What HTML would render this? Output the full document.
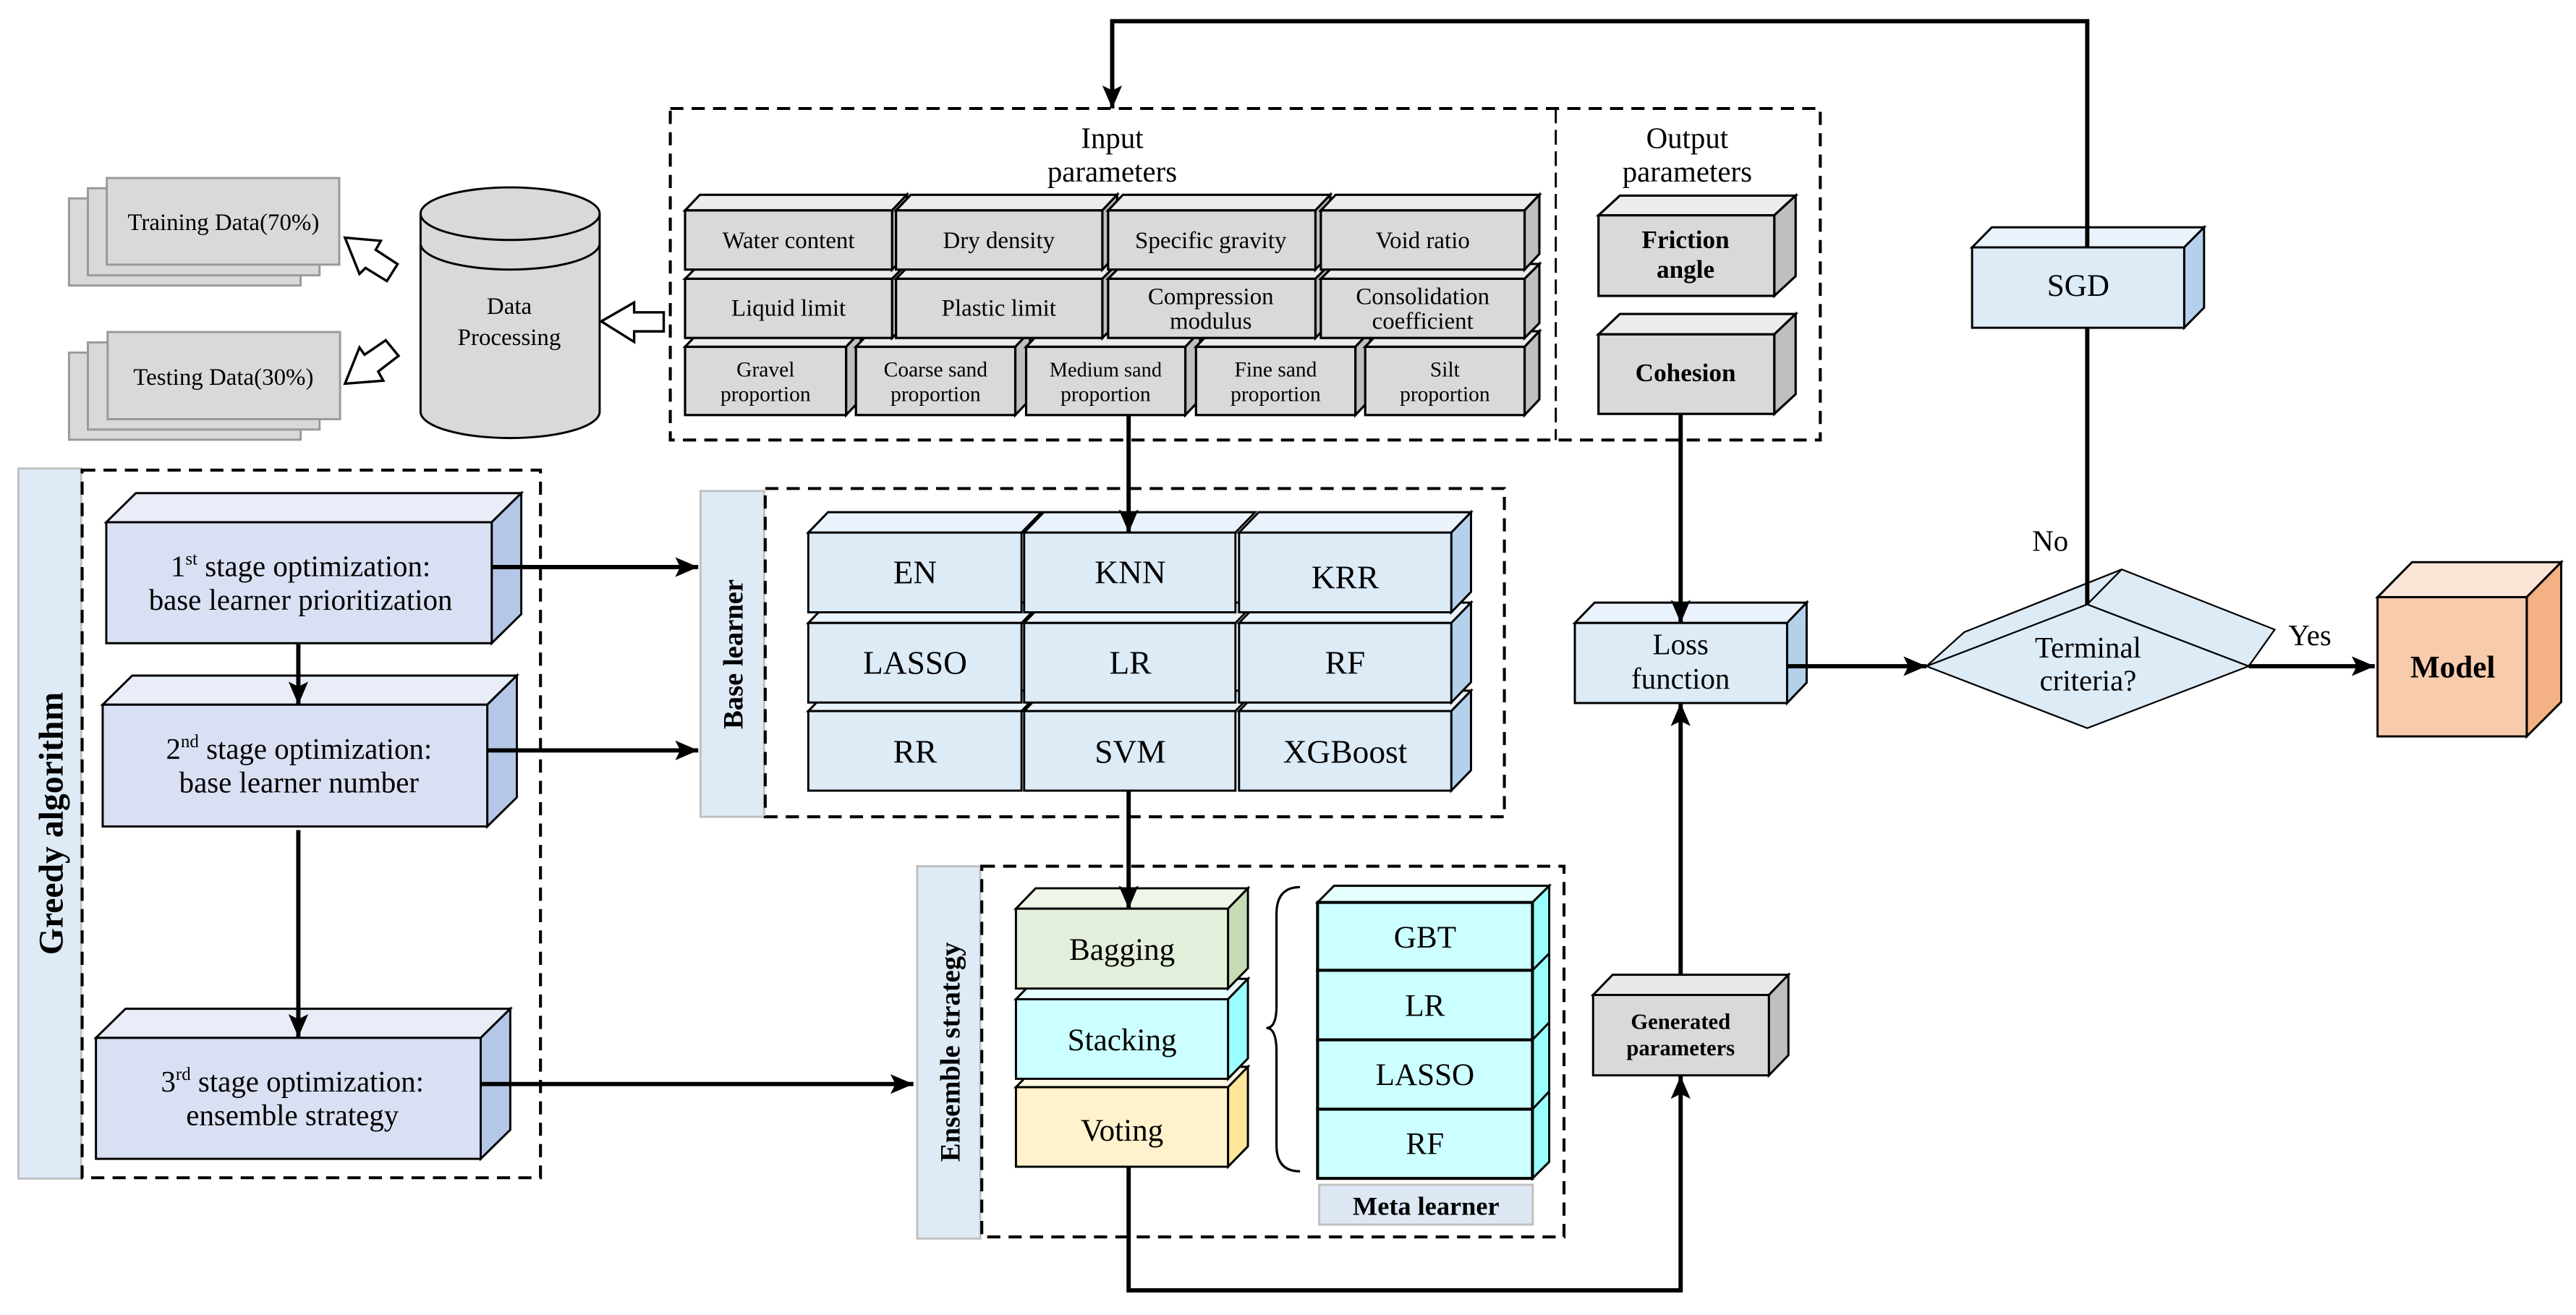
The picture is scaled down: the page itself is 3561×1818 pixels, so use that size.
<!DOCTYPE html>
<html><head><meta charset="utf-8"><style>
html,body{margin:0;padding:0;background:#fff;}
svg{display:block;font-family:"Liberation Serif","Times New Roman",serif;}
text{font-family:"Liberation Serif","Times New Roman",serif;fill:#000;}
</style></head><body>
<svg width="3561" height="1818" viewBox="0 0 1568 800" preserveAspectRatio="none" xmlns="http://www.w3.org/2000/svg" font-family="'Liberation Serif','Times New Roman',serif">
<defs>
<marker id="a" markerUnits="userSpaceOnUse" markerWidth="16" markerHeight="14" refX="14" refY="6" orient="auto">
<path d="M0,0 L14,6 L0,12 L3,6 z" fill="#000"/>
</marker>
</defs>
<rect width="1568" height="800" fill="#fff"/>

<g stroke="#999" stroke-width="1.3" fill="#d9d9d9">
<rect x="42" y="120.7" width="141" height="53"/>
<rect x="53.5" y="114.5" width="141" height="53"/>
<rect x="65" y="108.3" width="141.5" height="52.7"/>
<rect x="42" y="214.5" width="141" height="53"/>
<rect x="53.5" y="208.3" width="141" height="53"/>
<rect x="65.5" y="202" width="141.5" height="53"/>
</g>
<text x="136" y="140" font-size="14.5" text-anchor="middle">Training Data(70%)</text>
<text x="136" y="234" font-size="14.5" text-anchor="middle">Testing Data(30%)</text>

<g stroke="#000" stroke-width="1.5" fill="#fff">
<polygon points="210,144.6 231.8,146.5 228.7,152 242,160.7 235.5,171 222.5,163 218.8,166.6"/>
<polygon points="210,233.4 233.3,231.6 230.2,226 242.6,216.5 234.8,207 221.9,215.8 218.8,211.4"/>
<polygon points="366,195.5 386,184 386,190 404,190 404,201.6 386,201.6 386,208"/>
</g>

<g stroke="#000" stroke-width="1.3" fill="#d9d9d9">
<path d="M256,130 L256,250.5 A54.5,16 0 0 0 365,250.5 L365,130 A54.5,16 0 0 0 256,130 z"/>
<path d="M256,130 A54.5,16 0 0 0 365,130" fill="none"/>
<path d="M256,148 A54.5,16 0 0 0 365,148" fill="none"/>
</g>
<text x="310" y="191" font-size="14.5" text-anchor="middle">Data</text>
<text x="310" y="210" font-size="14.5" text-anchor="middle">Processing</text>

<g fill="none" stroke="#000" stroke-width="1.8" stroke-dasharray="8,5">
<rect x="408" y="66" width="700" height="201.7"/>
<line x1="947" y1="66" x2="947" y2="267.7" stroke-dasharray="9,4" stroke-width="1.3"/>
</g>
<text x="677" y="90" font-size="18" text-anchor="middle">Input</text>
<text x="677" y="110.5" font-size="18" text-anchor="middle">parameters</text>
<text x="1027" y="90" font-size="18" text-anchor="middle">Output</text>
<text x="1027" y="110.5" font-size="18" text-anchor="middle">parameters</text>

<g stroke="#000" stroke-width="1.4" stroke-linejoin="miter">
<g>
<polygon points="417,211 426,201.5 524,201.5 515,211" fill="#ececec"/><polygon points="515,211 524,201.5 524,243 515,252.5" fill="#bfbfbf"/><rect x="417" y="211" width="98" height="41.5" fill="#d9d9d9"/>
<polygon points="521,211 530,201.5 627,201.5 618,211" fill="#ececec"/><polygon points="618,211 627,201.5 627,243 618,252.5" fill="#bfbfbf"/><rect x="521" y="211" width="97" height="41.5" fill="#d9d9d9"/>
<polygon points="624.6,211 633.6,201.5 730.5,201.5 721.5,211" fill="#ececec"/><polygon points="721.5,211 730.5,201.5 730.5,243 721.5,252.5" fill="#bfbfbf"/><rect x="624.6" y="211" width="96.9" height="41.5" fill="#d9d9d9"/>
<polygon points="728,211 737,201.5 834,201.5 825,211" fill="#ececec"/><polygon points="825,211 834,201.5 834,243 825,252.5" fill="#bfbfbf"/><rect x="728" y="211" width="97" height="41.5" fill="#d9d9d9"/>
<polygon points="831,211 840,201.5 937,201.5 928,211" fill="#ececec"/><polygon points="928,211 937,201.5 937,243 928,252.5" fill="#bfbfbf"/><rect x="831" y="211" width="97" height="41.5" fill="#d9d9d9"/>
</g>
<g>
<polygon points="417,169.6 426,160.6 552,160.6 543,169.6" fill="#ececec"/><polygon points="543,169.6 552,160.6 552,196.6 543,205.6" fill="#bfbfbf"/><rect x="417" y="169.6" width="126" height="36" fill="#d9d9d9"/>
<polygon points="545.4,169.6 554.4,160.6 680,160.6 671,169.6" fill="#ececec"/><polygon points="671,169.6 680,160.6 680,196.6 671,205.6" fill="#bfbfbf"/><rect x="545.4" y="169.6" width="125.6" height="36" fill="#d9d9d9"/>
<polygon points="674.5,169.6 683.5,160.6 809.7,160.6 800.7,169.6" fill="#ececec"/><polygon points="800.7,169.6 809.7,160.6 809.7,196.6 800.7,205.6" fill="#bfbfbf"/><rect x="674.5" y="169.6" width="126.2" height="36" fill="#d9d9d9"/>
<polygon points="804,169.6 813,160.6 937,160.6 928,169.6" fill="#ececec"/><polygon points="928,169.6 937,160.6 937,196.6 928,205.6" fill="#bfbfbf"/><rect x="804" y="169.6" width="124" height="36" fill="#d9d9d9"/>
</g>
<g>
<polygon points="417,128 426,118.5 552,118.5 543,128" fill="#ececec"/><polygon points="543,128 552,118.5 552,154.5 543,164" fill="#bfbfbf"/><rect x="417" y="128" width="126" height="36" fill="#d9d9d9"/>
<polygon points="545.4,128 554.4,118.5 680,118.5 671,128" fill="#ececec"/><polygon points="671,128 680,118.5 680,154.5 671,164" fill="#bfbfbf"/><rect x="545.4" y="128" width="125.6" height="36" fill="#d9d9d9"/>
<polygon points="674.5,128 683.5,118.5 809.7,118.5 800.7,128" fill="#ececec"/><polygon points="800.7,128 809.7,118.5 809.7,154.5 800.7,164" fill="#bfbfbf"/><rect x="674.5" y="128" width="126.2" height="36" fill="#d9d9d9"/>
<polygon points="804,128 813,118.5 937,118.5 928,128" fill="#ececec"/><polygon points="928,128 937,118.5 937,154.5 928,164" fill="#bfbfbf"/><rect x="804" y="128" width="124" height="36" fill="#d9d9d9"/>
</g>
<polygon points="973,131 986,119 1093,119 1080,131" fill="#ececec"/><polygon points="1080,131 1093,119 1093,168 1080,180" fill="#bfbfbf"/><rect x="973" y="131" width="107" height="49" fill="#d9d9d9"/>
<polygon points="973,203.4 986,191 1093,191 1080,203.4" fill="#ececec"/><polygon points="1080,203.4 1093,191 1093,239.8 1080,251.8" fill="#bfbfbf"/><rect x="973" y="203.4" width="107" height="48.4" fill="#d9d9d9"/>
</g>
<g font-size="14.5" text-anchor="middle">
<text x="480" y="151">Water content</text>
<text x="608" y="151">Dry density</text>
<text x="737" y="151">Specific gravity</text>
<text x="866" y="151">Void ratio</text>
<text x="480" y="192">Liquid limit</text>
<text x="608" y="192">Plastic limit</text>
<text x="737" y="185">Compression</text>
<text x="737" y="200">modulus</text>
<text x="866" y="185">Consolidation</text>
<text x="866" y="200">coefficient</text>
</g>
<g font-size="13" text-anchor="middle">
<text x="466" y="229">Gravel</text><text x="466" y="244">proportion</text>
<text x="569.5" y="229">Coarse sand</text><text x="569.5" y="244">proportion</text>
<text x="673" y="229" font-size="12.5">Medium sand</text><text x="673" y="244">proportion</text>
<text x="776.5" y="229">Fine sand</text><text x="776.5" y="244">proportion</text>
<text x="879.5" y="229">Silt</text><text x="879.5" y="244">proportion</text>
</g>
<g font-size="15.5" font-weight="bold" text-anchor="middle">
<text x="1026" y="151">Friction</text>
<text x="1026" y="169">angle</text>
<text x="1026" y="232">Cohesion</text>
</g>

<rect x="11.2" y="285" width="38.2" height="432" fill="#deebf7" stroke="#c0c0c0" stroke-width="1.3"/>
<rect x="50" y="286" width="279" height="430.5" fill="none" stroke="#000" stroke-width="1.8" stroke-dasharray="8,5"/>
<text transform="translate(38,501) rotate(-90)" font-size="21" font-weight="bold" text-anchor="middle">Greedy algorithm</text>
<g stroke="#000" stroke-width="1.3">
<polygon points="64.7,317.7 82.7,300 317.3,300 299.3,317.7" fill="#e9edf8"/><polygon points="299.3,317.7 317.3,300 317.3,373.6 299.3,391.3" fill="#b4c7e7"/><rect x="64.7" y="317.7" width="234.6" height="73.6" fill="#dae0f3"/>
<polygon points="62.5,428.7 80.5,411 314.6,411 296.6,428.7" fill="#e9edf8"/><polygon points="296.6,428.7 314.6,411 314.6,485.1 296.6,502.8" fill="#b4c7e7"/><rect x="62.5" y="428.7" width="234.1" height="74.1" fill="#dae0f3"/>
<polygon points="58.4,631.4 76.4,613.7 310.6,613.7 292.6,631.4" fill="#e9edf8"/><polygon points="292.6,631.4 310.6,613.7 310.6,687.3 292.6,705" fill="#b4c7e7"/><rect x="58.4" y="631.4" width="234.2" height="73.6" fill="#dae0f3"/>
</g>
<g font-size="18" text-anchor="middle">
<text x="183" y="350.5">1<tspan font-size="11" dy="-7">st</tspan><tspan dy="7"> stage optimization:</tspan></text>
<text x="183" y="371">base learner prioritization</text>
<text x="182" y="461.5">2<tspan font-size="11" dy="-7">nd</tspan><tspan dy="7"> stage optimization:</tspan></text>
<text x="182" y="482">base learner number</text>
<text x="178" y="664">3<tspan font-size="11" dy="-7">rd</tspan><tspan dy="7"> stage optimization:</tspan></text>
<text x="178" y="684.5">ensemble strategy</text>
</g>

<rect x="426.4" y="298.7" width="38.7" height="198.2" fill="#deebf7" stroke="#c0c0c0" stroke-width="1.3"/>
<rect x="465.8" y="297.2" width="449.9" height="199.7" fill="none" stroke="#000" stroke-width="1.8" stroke-dasharray="8,5"/>
<text transform="translate(452,398) rotate(-90)" font-size="17" font-weight="bold" text-anchor="middle">Base learner</text>
<g stroke="#000" stroke-width="1.3">
<polygon points="492,432.6 504,420.2 633.8,420.2 621.8,432.6" fill="#eaf3fb"/><rect x="492" y="432.6" width="129.8" height="48.4" fill="#ddebf7"/>
<polygon points="623.4,432.6 635.4,420.2 764,420.2 752,432.6" fill="#eaf3fb"/><rect x="623.4" y="432.6" width="128.6" height="48.4" fill="#ddebf7"/>
<polygon points="754.2,432.6 766.2,420.2 895.4,420.2 883.4,432.6" fill="#eaf3fb"/><polygon points="883.4,432.6 895.4,420.2 895.4,468.6 883.4,481" fill="#b4d0ea"/><rect x="754.2" y="432.6" width="129.2" height="48.4" fill="#ddebf7"/>
<polygon points="492,379 504,366.6 633.8,366.6 621.8,379" fill="#eaf3fb"/><rect x="492" y="379" width="129.8" height="48.4" fill="#ddebf7"/>
<polygon points="623.4,379 635.4,366.6 764,366.6 752,379" fill="#eaf3fb"/><rect x="623.4" y="379" width="128.6" height="48.4" fill="#ddebf7"/>
<polygon points="754.2,379 766.2,366.6 895.4,366.6 883.4,379" fill="#eaf3fb"/><polygon points="883.4,379 895.4,366.6 895.4,415 883.4,427.4" fill="#b4d0ea"/><rect x="754.2" y="379" width="129.2" height="48.4" fill="#ddebf7"/>
<polygon points="492,324 504,311.6 633.8,311.6 621.8,324" fill="#eaf3fb"/><rect x="492" y="324" width="129.8" height="48.5" fill="#ddebf7"/>
<polygon points="623.4,324 635.4,311.6 764,311.6 752,324" fill="#eaf3fb"/><rect x="623.4" y="324" width="128.6" height="48.5" fill="#ddebf7"/>
<polygon points="754.2,324 766.2,311.6 895.4,311.6 883.4,324" fill="#eaf3fb"/><polygon points="883.4,324 895.4,311.6 895.4,360.1 883.4,372.5" fill="#b4d0ea"/><rect x="754.2" y="324" width="129.2" height="48.5" fill="#ddebf7"/>
</g>
<g font-size="20" text-anchor="middle">
<text x="557" y="355">EN</text><text x="688" y="355">KNN</text><text x="818.8" y="358">KRR</text>
<text x="557" y="410">LASSO</text><text x="688" y="410">LR</text><text x="818.8" y="410">RF</text>
<text x="557" y="464">RR</text><text x="688" y="464">SVM</text><text x="818.8" y="464">XGBoost</text>
</g>

<rect x="558.3" y="527" width="38.4" height="226.5" fill="#deebf7" stroke="#c0c0c0" stroke-width="1.3"/>
<rect x="597.6" y="527" width="354.4" height="225.5" fill="none" stroke="#000" stroke-width="1.8" stroke-dasharray="8,5"/>
<text transform="translate(584,640) rotate(-90)" font-size="17" font-weight="bold" text-anchor="middle">Ensemble strategy</text>
<g stroke="#000" stroke-width="1.3">
<polygon points="618.4,661.4 630.4,649 759.6,649 747.5,661.4" fill="#fff8e5"/><polygon points="747.5,661.4 759.6,649 759.6,697.4 747.5,709.8" fill="#ffe699"/><rect x="618.4" y="661.4" width="129.1" height="48.4" fill="#fff2cc"/>
<polygon points="618.4,607.9 630.4,595.5 759.6,595.5 747.5,607.9" fill="#e6ffff"/><polygon points="747.5,607.9 759.6,595.5 759.6,643.9 747.5,656.3" fill="#99ffff"/><rect x="618.4" y="607.9" width="129.1" height="48.4" fill="#ccffff"/>
<polygon points="618.4,552.8 630.4,540.4 759.6,540.4 747.5,552.8" fill="#eef5e9"/><polygon points="747.5,552.8 759.6,540.4 759.6,589 747.5,601.4" fill="#c6dcb4"/><rect x="618.4" y="552.8" width="129.1" height="48.6" fill="#e2efda"/>
<polygon points="802,549 812,538.9 943,538.9 932.8,549" fill="#e6ffff"/>
<polygon points="932.8,549 943,538.9 943,706.8 932.8,716.9" fill="#99ffff"/>
<rect x="802" y="549" width="130.8" height="41.3" fill="#ccffff" stroke-width="1.8"/>
<rect x="802" y="590.3" width="130.8" height="42.3" fill="#ccffff" stroke-width="1.8"/>
<rect x="802" y="632.6" width="130.8" height="42.2" fill="#ccffff" stroke-width="1.8"/>
<rect x="802" y="674.8" width="130.8" height="42.1" fill="#ccffff" stroke-width="1.8"/>
<line x1="932.8" y1="590.3" x2="943" y2="580" /><line x1="932.8" y1="632.6" x2="943" y2="622"/><line x1="932.8" y1="674.8" x2="943" y2="664"/>
</g>
<rect x="803" y="720.8" width="130" height="24.2" fill="#dde8f4" stroke="#c0c0c0" stroke-width="1.3"/>
<path d="M791.3,539.7 Q777,539.7 777,556 L777,612 Q777,625.4 770.8,625.4 Q777,625.4 777,640 L777,697 Q777,712.6 791.3,712.6" fill="none" stroke="#000" stroke-width="1.4"/>
<g font-size="19" text-anchor="middle">
<text x="683" y="584">Bagging</text><text x="683" y="639">Stacking</text><text x="683" y="694">Voting</text>
<text x="867.4" y="576.5">GBT</text><text x="867.4" y="618">LR</text><text x="867.4" y="660">LASSO</text><text x="867.4" y="702">RF</text>
</g>
<text x="868" y="739" font-size="16" font-weight="bold" text-anchor="middle">Meta learner</text>

<g stroke="#000" stroke-width="1.3">
<polygon points="1200.4,150.5 1212.4,138.3 1341.6,138.3 1329.5,150.5" fill="#eaf3fb"/><polygon points="1329.5,150.5 1341.6,138.3 1341.6,187.2 1329.5,199.4" fill="#b4d0ea"/><rect x="1200.4" y="150.5" width="129.1" height="48.9" fill="#ddebf7"/>
<polygon points="958.6,379 970.6,366.6 1099.7,366.6 1087.8,379" fill="#eaf3fb"/><polygon points="1087.8,379 1099.7,366.6 1099.7,415.3 1087.8,427.7" fill="#b4d0ea"/><rect x="958.6" y="379" width="129.2" height="48.7" fill="#ddebf7"/>
<polygon points="969.7,605.3 981.6,593 1088.6,593 1076.7,605.3" fill="#e8e8e8"/><polygon points="1076.7,605.3 1088.6,593 1088.6,641.9 1076.7,654.2" fill="#bfbfbf"/><rect x="969.7" y="605.3" width="107" height="48.9" fill="#d9d9d9"/>
<polygon points="1447.2,363.3 1468.2,342 1559,342 1538,363.3" fill="#fbe5d6"/><polygon points="1538,363.3 1559,342 1559,427 1538,448" fill="#f4b183"/><rect x="1447.2" y="363.3" width="90.8" height="84.7" fill="#f8cbad"/>
<polygon points="1172.6,405.3 1195.6,384.6 1291.5,346.4 1384.6,383 1368.8,405.3" fill="#ddebf7" stroke-width="1"/>
<polygon points="1172.6,405.3 1270.5,367.7 1368.8,405.3 1270.5,443" fill="#ddebf7" stroke-width="1"/>
<line x1="1270.5" y1="367.7" x2="1291.5" y2="346.4" stroke-width="1"/>
</g>
<text x="1265" y="180" font-size="19" text-anchor="middle">SGD</text>
<text x="1023" y="398" font-size="18" text-anchor="middle">Loss</text>
<text x="1023" y="419" font-size="18" text-anchor="middle">function</text>
<text x="1023" y="626" font-size="13.5" font-weight="bold" text-anchor="middle">Generated</text>
<text x="1023" y="642" font-size="13.5" font-weight="bold" text-anchor="middle">parameters</text>
<text x="1493" y="412" font-size="19" font-weight="bold" text-anchor="middle">Model</text>
<text x="1271" y="400" font-size="18" text-anchor="middle">Terminal</text>
<text x="1271" y="420" font-size="18" text-anchor="middle">criteria?</text>
<text x="1248" y="335" font-size="18" text-anchor="middle">No</text>
<text x="1406" y="392.5" font-size="18" text-anchor="middle">Yes</text>

<g stroke="#000" stroke-width="2.6" fill="none" stroke-linejoin="miter">
<path d="M1270.5,367.7 L1270.5,199.4"/>
<path d="M1270.5,150.5 L1270.5,12.9 L677,12.9 L677,66" marker-end="url(#a)"/>
<path d="M687,252.5 L687,324" marker-end="url(#a)"/>
<path d="M687,481 L687,552.8" marker-end="url(#a)"/>
<path d="M687,709.8 L687,785 L1023,785 L1023,654.5" marker-end="url(#a)"/>
<path d="M1023,593 L1023,427.7" marker-end="url(#a)"/>
<path d="M1023,251.8 L1023,379" marker-end="url(#a)"/>
<path d="M1087.8,405.3 L1172.6,405.3" marker-end="url(#a)"/>
<path d="M1368.8,405.3 L1445.5,405.3" marker-end="url(#a)"/>
<path d="M181.6,391.3 L181.6,428.7" marker-end="url(#a)"/>
<path d="M181.6,505 L181.6,631" marker-end="url(#a)"/>
<path d="M299.3,345 L425,345" marker-end="url(#a)"/>
<path d="M296.6,456.5 L425,456.5" marker-end="url(#a)"/>
<path d="M292.6,659.5 L556,659.5" marker-end="url(#a)"/>
</g>
</svg>
</body></html>
